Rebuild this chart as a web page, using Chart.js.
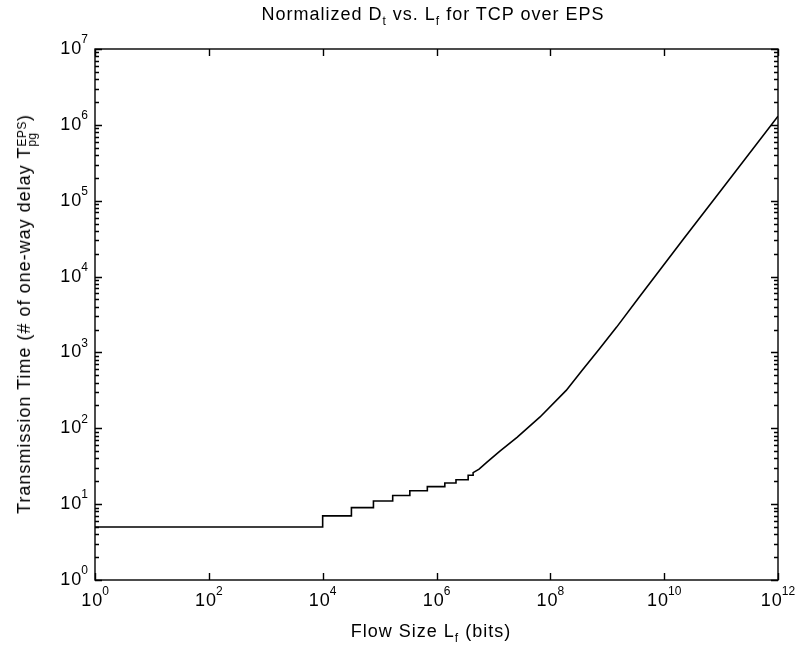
<!DOCTYPE html>
<html>
<head>
<meta charset="utf-8">
<script src="https://cdn.jsdelivr.net/npm/chart.js@4.4.1/dist/chart.umd.min.js"></script>
<style>
  body { margin: 0; background: #fff; }
  #wrap { position: relative; width: 799px; height: 651px; font-family: 'Liberation Sans', Arial, sans-serif; color: #000; }
  #wrap canvas { position: absolute; left: 0; top: 0; }
  .lbl { position: absolute; white-space: nowrap; font-size: 18px; line-height: 1; letter-spacing: 1px; }
  .lbl sub { font-size: 12px; vertical-align: -5px; line-height: 0; }
  .stack { display: inline-block; font-size: 12px; line-height: 10px; vertical-align: -6px; text-align: left; letter-spacing: 0.5px; }
</style>
</head>
<body>
<div id="wrap">
  <canvas id="timeChart" width="799" height="651"></canvas>
  <div class="lbl" id="title" style="left:433px; top:14px; transform:translate(-50%,-50%);">Normalized D<sub>t</sub> vs. L<sub>f</sub> for TCP over EPS</div>
  <div class="lbl" id="xlabel" style="left:431px; top:631px; transform:translate(-50%,-50%);">Flow Size L<sub>f</sub> (bits)</div>
  <div class="lbl" id="ylabel" style="left:26px; top:314px; transform:translate(-50%,-50%) rotate(-90deg);">Transmission Time (# of one-way delay T<span class="stack">EPS<br>pg</span>)</div>
</div>
<script>
// flow size L_f (bits) and normalized transmission time
const flowSize = [
  1, 1e4, 1e4, 3.2e4, 3.2e4, 7.8e4, 7.8e4, 1.7e5, 1.7e5, 3.4e5, 3.4e5,
  6.9e5, 6.9e5, 1.4e6, 1.4e6, 2.2e6, 2.2e6, 3.6e6, 3.6e6, 4.4e6, 4.4e6,
  5.6e6, 7.8e6, 1.3e7, 2.6e7, 6.6e7, 1.9e8, 3.6e8, 7.2e8, 1.45e9,
  3.6e9, 2.2e10, 1e11, 1e12
];
const transTime = [
  5, 5, 7, 7, 9, 9, 11, 11, 13, 13, 15,
  15, 17, 17, 19, 19, 21, 21, 24, 24, 26,
  29, 36, 50, 76, 141, 316, 578, 1100, 2140,
  5300, 31600, 137000, 1300000
];

// tick exponents (labels are 10^e)
const xTickExp = [0, 2, 4, 6, 8, 10, 12];
const yTickExp = [0, 1, 2, 3, 4, 5, 6, 7];

const drawPow = (ctx, e, x, y, align) => {
  ctx.font = '18px "Liberation Sans", Arial, sans-serif';
  const base = ctx.measureText('10').width + 1;
  ctx.font = '12px "Liberation Sans", Arial, sans-serif';
  const sup = ctx.measureText(String(e)).width;
  const total = base + sup;
  let left = align === 'right' ? x - total : x - total / 2;
  ctx.textBaseline = 'middle';
  ctx.textAlign = 'left';
  ctx.font = '18px "Liberation Sans", Arial, sans-serif';
  ctx.fillText('1', left, y);
  ctx.fillText('0', left + ctx.measureText('1').width + 1, y);
  ctx.font = '12px "Liberation Sans", Arial, sans-serif';
  ctx.fillText(String(e), left + base, y - 9);
};

const matlabAxes = {
  id: 'matlabAxes',
  afterDraw(chart) {
    const { ctx, chartArea: a, scales: { x, y } } = chart;
    ctx.save();
    ctx.strokeStyle = '#000';
    ctx.fillStyle = '#000';
    ctx.lineWidth = 1.4;
    ctx.strokeRect(a.left, a.top, a.right - a.left, a.bottom - a.top);
    ctx.beginPath();
    xTickExp.forEach(e => {
      const px = Math.round(x.getPixelForValue(Math.pow(10, e))) + 0.5;
      ctx.moveTo(px, a.bottom); ctx.lineTo(px, a.bottom - 7);
      ctx.moveTo(px, a.top); ctx.lineTo(px, a.top + 7);
    });
    yTickExp.forEach(e => {
      for (let m = 1; m <= 9; m++) {
        if (e === 7 && m > 1) break;
        const len = m === 1 ? 7 : 4;
        const py = Math.round(y.getPixelForValue(m * Math.pow(10, e))) + 0.5;
        ctx.moveTo(a.left, py); ctx.lineTo(a.left + len, py);
        ctx.moveTo(a.right, py); ctx.lineTo(a.right - len, py);
      }
    });
    ctx.stroke();
    xTickExp.forEach(e => drawPow(ctx, e, x.getPixelForValue(Math.pow(10, e)), a.bottom + 21, 'center'));
    yTickExp.forEach(e => drawPow(ctx, e, a.left - 7, y.getPixelForValue(Math.pow(10, e)), 'right'));
    ctx.restore();
  }
};

new Chart(document.getElementById('timeChart').getContext('2d'), {
  type: 'scatter',
  data: {
    datasets: [{
      data: flowSize.map((f, i) => ({ x: f, y: transTime[i] })),
      showLine: true,
      borderColor: '#000',
      borderWidth: 1.6,
      pointRadius: 0,
      fill: false,
      tension: 0
    }]
  },
  options: {
    responsive: false,
    animation: false,
    devicePixelRatio: 1,
    layout: { padding: { left: 95, right: 21, top: 49, bottom: 71 } },
    plugins: { legend: { display: false }, tooltip: { enabled: false } },
    scales: {
      x: { type: 'logarithmic', min: 1, max: 1e12, display: false },
      y: { type: 'logarithmic', min: 1, max: 1e7, display: false }
    }
  },
  plugins: [matlabAxes]
});
</script>
</body>
</html>
